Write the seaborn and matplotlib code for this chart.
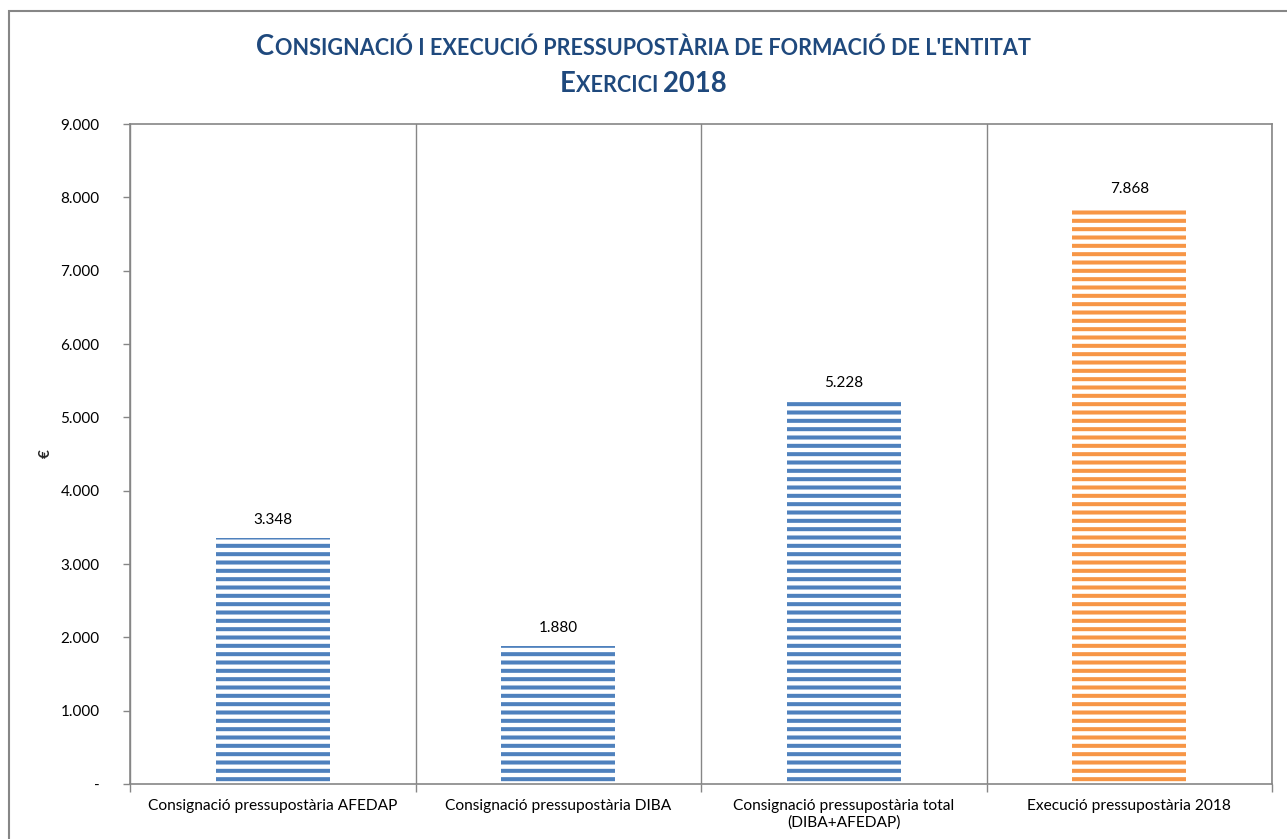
import matplotlib
matplotlib.use("Agg")
import matplotlib.pyplot as plt
import matplotlib.ticker as mticker
from matplotlib.offsetbox import TextArea, HPacker, AnnotationBbox
from matplotlib.patches import Rectangle
import seaborn as sns

# Dades
categories = ['Consignació pressupostària AFEDAP',
              'Consignació pressupostària DIBA',
              'Consignació pressupostària total\n(DIBA+AFEDAP)',
              'Execució pressupostària 2018']
valors = [3348, 1880, 5228, 7868]
colors = ['#4F81BD', '#4F81BD', '#4F81BD', '#F79646']
y_ticks = [0, 1000, 2000, 3000, 4000, 5000, 6000, 7000, 8000, 9000]

sns.set_theme(style="white")
plt.rcParams['font.family'] = ['Lato', 'DejaVu Sans']
plt.rcParams['hatch.linewidth'] = 2.9

fig = plt.figure(figsize=(12.87, 8.39), dpi=100)
ax = fig.add_axes([130/1287, 1-784/839, 1142/1287, 660/839])

sns.barplot(x=categories, y=valors, hue=categories, palette=colors,
            legend=False, width=0.4, ax=ax)

for bar, c in zip(ax.patches, colors):
    bar.set_facecolor('white')
    bar.set_edgecolor(c)
    bar.set_hatch('--')
    bar.set_linewidth(0)

# Etiquetes de dades
for i, v in enumerate(valors):
    ax.annotate(f"{v:,}".replace(',', '.'), (i, v), xytext=(0, 8),
                textcoords='offset points', ha='center', va='bottom',
                fontsize=11, color='black')

ax.set_xlim(-0.5, 3.5)
ax.set_ylim(0, 9000)
ax.set_yticks(y_ticks)
ax.yaxis.set_major_formatter(mticker.FuncFormatter(
    lambda v, p: '-' if v == 0 else f"{v:,.0f}".replace(',', '.')))
ax.tick_params(axis='y', length=5, color='#868686', width=1, labelsize=11,
               left=True, pad=17, labelcolor='black')

ax.set_xticks(range(len(categories)))
ax.set_xticklabels(categories, fontsize=11.2, color='black')
ax.set_xticks([-0.5, 0.5, 1.5, 2.5, 3.5], minor=True)
ax.tick_params(axis='x', which='major', length=0, pad=11)
ax.tick_params(axis='x', which='minor', length=6, color='#868686',
               width=1, bottom=True)
ax.grid(False)
ax.grid(axis='x', which='minor', color='#868686', linewidth=1)
ax.set_xlabel('')
ax.set_ylabel('€', fontsize=11, fontweight='bold')
ax.yaxis.set_label_coords((53 - 130) / 1142, 0.5)

for s in ax.spines.values():
    s.set_visible(True)
    s.set_color('#868686')
    s.set_linewidth(1.2)

# Títol amb versaletes
titol_color = '#1F497D'
def versaletes(paraules, gran, petit):
    parts = []
    for lletra, resta in paraules:
        parts.append(TextArea(lletra, textprops=dict(fontsize=gran, fontweight='bold', color=titol_color)))
        if resta:
            parts.append(TextArea(resta, textprops=dict(fontsize=petit, fontweight='bold', color=titol_color)))
    return HPacker(children=parts, align='baseline', pad=0, sep=0)

linia1 = versaletes([('C', "ONSIGNACIÓ I EXECUCIÓ PRESSUPOSTÀRIA DE FORMACIÓ DE L'ENTITAT")], 19.8, 15.6)
linia2 = versaletes([('E', 'XERCICI '), ('2018', '')], 19.8, 15.6)
for box, y in [(linia1, 1-47/839), (linia2, 1-84/839)]:
    ab = AnnotationBbox(box, (0.5, y), xycoords='figure fraction',
                        frameon=False, box_alignment=(0.5, 0.5))
    fig.add_artist(ab)

# Vora del gràfic
fig.add_artist(Rectangle((9/1287, -0.1), 1.2, 1-11/839 + 0.1,
                         transform=fig.transFigure, fill=False,
                         edgecolor='#868686', linewidth=1.5))

fig.savefig('out.png', dpi=100)
